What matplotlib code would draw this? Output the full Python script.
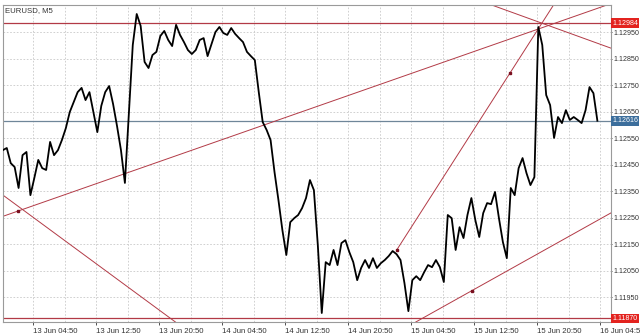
import numpy as np
import matplotlib.pyplot as plt

# --- dados: EURUSD M5, preco a cada 30 min (horas desde 13 Jun 00:00) ---
t0 = 1.0
passo = 0.5
preco = [
    1.12505, 1.12513, 1.12456, 1.12441, 1.12362, 1.12486, 1.12498, 1.12335, 1.12400, 1.12468,
    1.12437, 1.12430, 1.12536, 1.12486, 1.12505, 1.12543, 1.12588, 1.12649, 1.12687, 1.12724,
    1.12740, 1.12694, 1.12724, 1.12649, 1.12573, 1.12672, 1.12724, 1.12747, 1.12679, 1.12596,
    1.12505, 1.12381, 1.12638, 1.12902, 1.13019, 1.12974, 1.12838, 1.12815, 1.12864, 1.12876,
    1.12936, 1.12955, 1.12921, 1.12898, 1.12978, 1.12940, 1.12913, 1.12883, 1.12868, 1.12883,
    1.12921, 1.12928, 1.12860, 1.12906, 1.12951, 1.12970, 1.12947, 1.12940, 1.12966, 1.12944,
    1.12928, 1.12913, 1.12876, 1.12860, 1.12845, 1.12724, 1.12611, 1.12581, 1.12543, 1.12422,
    1.12316, 1.12203, 1.12109, 1.12233, 1.12248, 1.12260, 1.12286, 1.12324, 1.12392, 1.12354,
    1.12146, 1.11890, 1.12082, 1.12071, 1.12128, 1.12071, 1.12154, 1.12165, 1.12120, 1.12082,
    1.12014, 1.12060, 1.12090, 1.12060, 1.12097, 1.12060, 1.12078, 1.12090, 1.12105, 1.12124,
    1.12112, 1.12090, 1.12003, 1.11897, 1.12014, 1.12029, 1.12014, 1.12044, 1.12071, 1.12063,
    1.12090, 1.12063, 1.12007, 1.12260, 1.12248, 1.12128, 1.12214, 1.12173, 1.12260, 1.12324,
    1.12241, 1.12177, 1.12267, 1.12305, 1.12301, 1.12347, 1.12248, 1.12158, 1.12097, 1.12362,
    1.12335, 1.12437, 1.12475, 1.12418, 1.12373, 1.12403, 1.12970, 1.12902, 1.12713, 1.12675,
    1.12551, 1.12630, 1.12607, 1.12656, 1.12619, 1.12630, 1.12619, 1.12607, 1.12656, 1.12743,
    1.12720, 1.12616,
]
tempo = t0 + passo * np.arange(len(preco))

# niveis horizontais
nivel_alto = 1.12984
nivel_baixo = 1.11870
bid = 1.12616

# linhas de tendencia: dois pontos (hora, preco)
tend_longa = [(2.93, 1.12275), (77.72, 1.13053)]
tend_desc_esq = [(1.02, 1.12335), (22.23, 1.11871)]
tend_inclinada = [(51.02, 1.12128), (65.40, 1.12796)]
tend_desc_dir = [(63.08, 1.13053), (78.23, 1.12890)]
tend_baixa = [(60.54, 1.11974), (78.23, 1.12268)]

precos_eixo = [1.12950, 1.12850, 1.12750, 1.12650, 1.12550, 1.12450,
               1.12350, 1.12250, 1.12150, 1.12050, 1.11950]
rotulos_tempo = ['13 Jun 04:50', '13 Jun 12:50', '13 Jun 20:50', '14 Jun 04:50',
                 '14 Jun 12:50', '14 Jun 20:50', '15 Jun 04:50', '15 Jun 12:50',
                 '15 Jun 20:50', '16 Jun 04:50']
horas_rotulos = 4.833 + 8 * np.arange(len(rotulos_tempo))
horas_grade = 0.833 + 4 * np.arange(1, 20)

plt.rcParams['font.family'] = ['Liberation Sans', 'DejaVu Sans']
fs = 5.6
fs_y = 5.1
vermelho = '#B23A46'

fig = plt.figure(figsize=(6.4, 3.34), dpi=100)
ax = fig.add_axes([3 / 640, 1 - 322 / 334, 608 / 640, 317 / 334])
ax.set_xlim(1.02, 78.23)
ax.set_ylim(1.11856, 1.13053)

# grade tracejada
for h in horas_grade:
    ax.axvline(h, color='#C9C9C9', lw=0.6, ls=(0, (2, 2)), zorder=0)
for p in precos_eixo:
    ax.axhline(p, color='#C9C9C9', lw=0.6, ls=(0, (2, 2)), zorder=0)

# niveis
ax.axhline(nivel_alto, color=vermelho, lw=0.9, zorder=2)
ax.axhline(nivel_baixo, color=vermelho, lw=0.9, zorder=2)
ax.axhline(bid, color='#6F8699', lw=0.9, zorder=2)

# linhas de tendencia
for linha in [tend_longa, tend_desc_esq, tend_desc_dir, tend_baixa]:
    ax.axline(linha[0], linha[1], color=vermelho, lw=0.7, zorder=2)
(h1, p1), (h2, p2) = tend_inclinada
incl = (p2 - p1) / (h2 - h1)
ax.plot([h1, h1 + 30], [p1, p1 + incl * 30], color=vermelho, lw=0.7, zorder=2)
for h, p in [tend_longa[0], tend_inclinada[0], tend_inclinada[1], tend_baixa[0]]:
    ax.plot(h, p, 's', color='#7A1020', ms=1.6, zorder=3)

# serie de precos
ax.plot(tempo, preco, color='black', lw=1.3, zorder=4)

# eixos
ax.yaxis.tick_right()
ax.set_yticks(precos_eixo)
ax.set_yticklabels([f'{p:.5f}' for p in precos_eixo])
ax.set_xticks(horas_rotulos)
ax.set_xticklabels(rotulos_tempo)
for lab in ax.get_xticklabels():
    lab.set_horizontalalignment('left')
ax.tick_params(axis='x', labelsize=fs, length=2, width=0.6, colors='#333333', pad=2)
ax.tick_params(axis='y', labelsize=fs_y, length=1, width=0.6, colors='#333333', pad=0.8)
for s in ax.spines.values():
    s.set_color('#9A9A9A')
    s.set_linewidth(0.8)

# caixas de preco no eixo direito
trans = ax.get_yaxis_transform()
for p, cor in [(nivel_alto, '#E3231F'), (bid, '#3C6E9C'), (nivel_baixo, '#E3231F')]:
    ax.text(1.002, p, f'{p:.5f}', transform=trans, fontsize=fs_y, color='white',
            va='center', ha='left', clip_on=False, zorder=6,
            bbox=dict(facecolor=cor, edgecolor='none', pad=0.9))

ax.text(0.004, 0.982, 'EURUSD, M5', transform=ax.transAxes, fontsize=fs,
        color='#333333', va='center', ha='left')

fig.savefig('out.png', dpi=100)
